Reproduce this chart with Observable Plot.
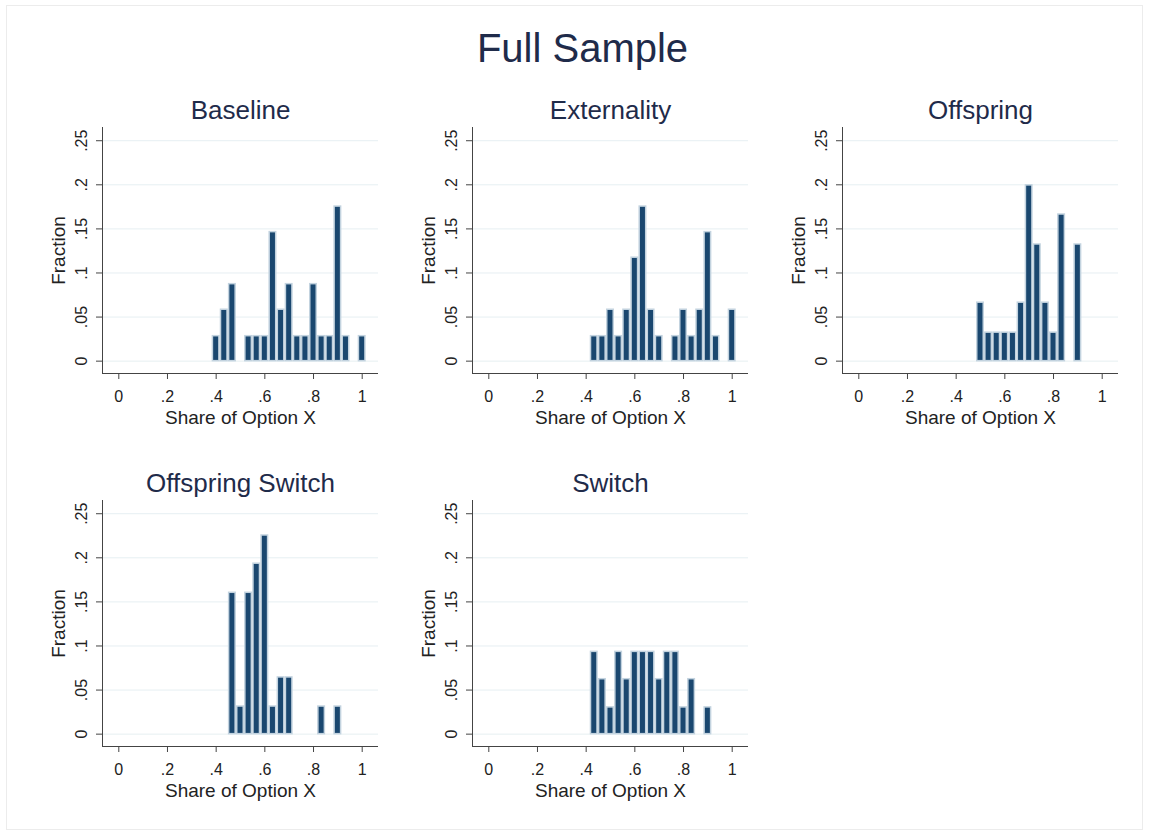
<!DOCTYPE html>
<html>
<head>
<meta charset="utf-8">
<script src="https://cdn.jsdelivr.net/npm/d3@7"></script>
<script src="https://cdn.jsdelivr.net/npm/@observablehq/plot@0.6"></script>
<style>
  body { margin: 0; background: #ffffff; }
  #root { position: relative; width: 1151px; height: 837px; overflow: hidden; font-family: "Liberation Sans", Arial, sans-serif; background: #fff; }
  #border { position: absolute; left: 6px; top: 5px; width: 1137px; height: 825px; border: 1px solid #ececec; box-sizing: border-box; }
  #title { position: absolute; left: 7px; width: 1151px; top: 28px; text-align: center; font-size: 40px; line-height: 40px; color: #1f2b4a; }
  .panel { position: absolute; }
</style>
</head>
<body>
<div id="root">
  <div id="border"></div>
  <div id="title">Full Sample</div>
</div>
<script>
// ---- Data (bin centers = share of option X, bar heights = fraction) ----
const panelTitles = ["Baseline", "Externality", "Offspring", "Offspring Switch", "Switch"];

const baselineShare = [0.4, 0.4333, 0.4667, 0.5333, 0.5667, 0.6, 0.6333, 0.6667, 0.7, 0.7333, 0.7667, 0.8, 0.8333, 0.8667, 0.9, 0.9333, 1.0];
const baselineFrac  = [0.029, 0.059, 0.088, 0.029, 0.029, 0.029, 0.147, 0.059, 0.088, 0.029, 0.029, 0.088, 0.029, 0.029, 0.176, 0.029, 0.029];

const externalityShare = [0.4333, 0.4667, 0.5, 0.5333, 0.5667, 0.6, 0.6333, 0.6667, 0.7, 0.7667, 0.8, 0.8333, 0.8667, 0.9, 0.9333, 1.0];
const externalityFrac  = [0.029, 0.029, 0.059, 0.029, 0.059, 0.118, 0.176, 0.059, 0.029, 0.029, 0.059, 0.029, 0.059, 0.147, 0.029, 0.059];

const offspringShare = [0.5, 0.5333, 0.5667, 0.6, 0.6333, 0.6667, 0.7, 0.7333, 0.7667, 0.8, 0.8333, 0.9];
const offspringFrac  = [0.067, 0.033, 0.033, 0.033, 0.033, 0.067, 0.2, 0.133, 0.067, 0.033, 0.167, 0.133];

const offSwitchShare = [0.4667, 0.5, 0.5333, 0.5667, 0.6, 0.6333, 0.6667, 0.7, 0.8333, 0.9];
const offSwitchFrac  = [0.161, 0.032, 0.161, 0.194, 0.226, 0.032, 0.065, 0.065, 0.032, 0.032];

const switchShare = [0.4333, 0.4667, 0.5, 0.5333, 0.5667, 0.6, 0.6333, 0.6667, 0.7, 0.7333, 0.7667, 0.8, 0.8333, 0.9];
const switchFrac  = [0.094, 0.063, 0.031, 0.094, 0.063, 0.094, 0.094, 0.094, 0.063, 0.094, 0.094, 0.031, 0.063, 0.031];

const xTicks = [0, 0.2, 0.4, 0.6, 0.8, 1];
const xTickLabels = ["0", ".2", ".4", ".6", ".8", "1"];
const yTicks = [0, 0.05, 0.1, 0.15, 0.2, 0.25];
const yTickLabels = ["0", ".05", ".1", ".15", ".2", ".25"];
const binWidth = 1 / 30;

// ---- Layout ----
const xDomain = [-0.067, 1.067];
const yDomain = [-0.014, 0.265];
const panels = [
  {title: panelTitles[0], share: baselineShare, frac: baselineFrac, col: 0, row: 0},
  {title: panelTitles[1], share: externalityShare, frac: externalityFrac, col: 1, row: 0},
  {title: panelTitles[2], share: offspringShare, frac: offspringFrac, col: 2, row: 0},
  {title: panelTitles[3], share: offSwitchShare, frac: offSwitchFrac, col: 0, row: 1},
  {title: panelTitles[4], share: switchShare, frac: switchFrac, col: 1, row: 1}
];

const root = document.getElementById("root");
const axisColor = "#444";
const textColor = "#222";

for (const p of panels) {
  const data = p.share.map((s, i) => ({share: s, frac: p.frac[i]}));
  const chart = Plot.plot({
    width: 380,
    height: 345,
    marginLeft: 102,
    marginRight: 2,
    marginTop: 39,
    marginBottom: 60,
    style: {fontFamily: "'Liberation Sans', Arial, sans-serif", background: "transparent", overflow: "visible"},
    x: {domain: xDomain, axis: null},
    y: {domain: yDomain, axis: null},
    marks: [
      Plot.ruleY(yTicks, {stroke: "#e6eff2", strokeWidth: 1}),
      Plot.rectY(data, {
        x1: d => d.share - binWidth / 2,
        x2: d => d.share + binWidth / 2,
        y1: 0,
        y2: "frac",
        insetLeft: 0.8, insetRight: 0.8, insetTop: 0.6,
        fill: "#1a476f",
        stroke: "#c3d3df",
        strokeWidth: 1.5
      }),
      Plot.ruleX([xDomain[0]], {stroke: axisColor, strokeWidth: 1}),
      Plot.ruleY([yDomain[0]], {stroke: axisColor, strokeWidth: 1}),
      Plot.axisX(xTicks, {anchor: "bottom", tickSize: 6, fill: "none", stroke: axisColor, label: null}),
      Plot.axisY(yTicks, {anchor: "left", tickSize: 6, fill: "none", stroke: axisColor, label: null}),
      Plot.text(xTickLabels, {x: (d, i) => xTicks[i], text: d => d, frameAnchor: "bottom", dy: 28.7, lineAnchor: "bottom", fontSize: 16, fill: textColor}),
      Plot.text(yTickLabels, {y: (d, i) => yTicks[i], text: d => d, frameAnchor: "left", dx: -21, rotate: -90, textAnchor: "middle", lineAnchor: "middle", fontSize: 16, fill: textColor}),
      Plot.text(["Share of Option X"], {text: d => d, frameAnchor: "bottom", dy: 50.3, lineAnchor: "bottom", fontSize: 19, fill: textColor}),
      Plot.text(["Fraction"], {text: d => d, frameAnchor: "left", dx: -43.5, rotate: -90, textAnchor: "middle", lineAnchor: "middle", fontSize: 19, fill: textColor}),
      Plot.text([p.title], {text: d => d, frameAnchor: "top", dy: -8.7, lineAnchor: "bottom", fontSize: 26, fill: "#1f2b4a"})
    ]
  });
  const wrap = document.createElement("div");
  wrap.className = "panel";
  wrap.style.left = (p.col * 370) + "px";
  wrap.style.top = (88 + p.row * 373) + "px";
  wrap.appendChild(chart);
  root.appendChild(wrap);
}
</script>
</body>
</html>
